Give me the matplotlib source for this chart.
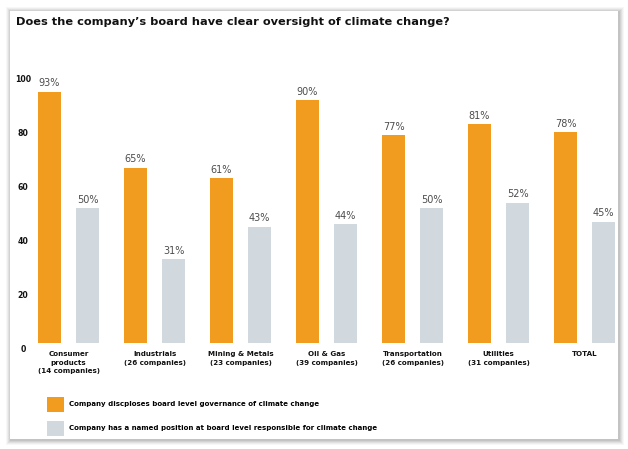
import matplotlib.pyplot as plt
from matplotlib.patches import Rectangle
from matplotlib.transforms import ScaledTranslation
import numpy as np

categories = ['Consumer\nproducts\n(14 companies)', 'Industrials\n(26 companies)',
              'Mining & Metals\n(23 companies)', 'Oil & Gas\n(39 companies)',
              'Transportation\n(26 companies)', 'Utilities\n(31 companies)', 'TOTAL']
governance = [93, 65, 61, 90, 77, 81, 78]
named_position = [50, 31, 43, 44, 50, 52, 45]
yticks = [0, 20, 40, 60, 80, 100]

orange = '#F29C1F'
grey = '#D1D8DE'

W, H = 628, 449
fig = plt.figure(figsize=(W / 100, H / 100), dpi=100)
fig.patch.set_facecolor('white')

# panel with soft shadow
px, py, pw, ph = 10, 11, 608, 428
for k, a in enumerate([0.03, 0.04, 0.05, 0.06, 0.07]):
    g = 5 - k
    fig.patches.append(Rectangle(((px - g + 1) / W, (H - py - ph - g - 1) / H),
                                 (pw + 2 * g) / W, (ph + 2 * g) / H,
                                 transform=fig.transFigure, facecolor='black',
                                 edgecolor='none', alpha=a, zorder=0))
fig.patches.append(Rectangle((px / W, (H - py - ph) / H), pw / W, ph / H,
                             transform=fig.transFigure, facecolor='white',
                             edgecolor='none', zorder=1))

fig.text(16 / W, 1 - 22 / H, "Does the company\u2019s board have clear oversight of climate change?",
         fontsize=8.2, fontweight='bold', color='#111111', va='center', ha='left')

left_px, right_px, top_px, bottom_px = 30, 618, 73, 343
ax = fig.add_axes([left_px / W, (H - bottom_px) / H, (right_px - left_px) / W,
                   (bottom_px - top_px) / H])
ax.set_zorder(3)
ax.patch.set_alpha(0)

x = np.arange(len(categories))
d = 19 / 86
bw = 23 / 86
b1 = ax.bar(x - d, governance, bw, color=orange,
            label='Company discploses board level governance of climate change')
b2 = ax.bar(x + d, named_position, bw, color=grey,
            label='Company has a named position at board level responsible for climate change')

for bars, vals in [(b1, governance), (b2, named_position)]:
    for r, v in zip(bars, vals):
        ax.annotate(f'{v}%', (r.get_x() + r.get_width() / 2, v), xytext=(0, 2.5),
                    textcoords='offset points', ha='center', va='bottom',
                    fontsize=7, color='#4d4d4d', clip_on=False)

ax.set_xlim((left_px - 68.5) / 86, (right_px - 68.5) / 86)
ax.set_ylim(0, 100)
for s in ax.spines.values():
    s.set_visible(False)

ax.set_yticks(yticks)
ax.set_yticklabels([str(t) for t in yticks], fontsize=5.6, fontweight='bold', color='#111111')
ax.tick_params(axis='y', length=0, pad=5)
off = ScaledTranslation(0, -6 / 100, fig.dpi_scale_trans)
for lab in ax.get_yticklabels():
    lab.set_horizontalalignment('center')
    lab.set_transform(lab.get_transform() + off)

ax.set_xticks(x)
ax.set_xticklabels(categories, fontsize=5.1, fontweight='bold', color='#111111', linespacing=1.45)
ax.tick_params(axis='x', length=0, pad=6)

leg = fig.legend(handles=[b1, b2], loc='upper left', bbox_to_anchor=(47 / W, 1 - 397 / H),
                 frameon=False, prop={'weight': 'bold', 'size': 5},
                 handlelength=2.45, handleheight=2.9, labelspacing=1.3, handletextpad=0.7,
                 borderpad=0, borderaxespad=0)
leg.set_zorder(4)

fig.savefig('out.png', dpi=100)
